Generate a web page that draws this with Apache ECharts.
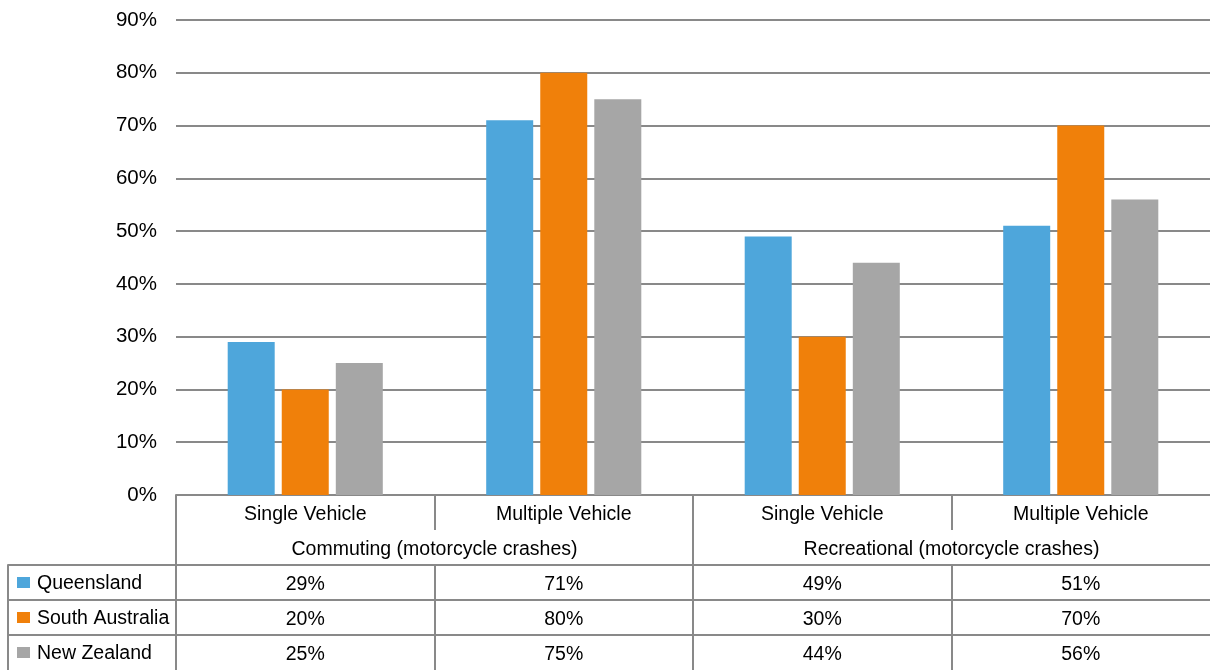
<!DOCTYPE html>
<html>
<head>
<meta charset="utf-8">
<script src="https://cdn.jsdelivr.net/npm/echarts@6/dist/echarts.min.js"></script>
<style>
  html, body { margin: 0; padding: 0; background: #fff; }
  #chart { width: 1210px; height: 670px; }
</style>
</head>
<body>
<div id="chart"></div>
<script>
// ---- data ----
const subCategories = ['Single Vehicle', 'Multiple Vehicle', 'Single Vehicle', 'Multiple Vehicle'];
const groupCategories = ['Commuting (motorcycle crashes)', 'Recreational (motorcycle crashes)'];
const seriesNames = ['Queensland', 'South Australia', 'New Zealand'];
const queensland = [29, 71, 49, 51];
const southAustralia = [20, 80, 30, 70];
const newZealand = [25, 75, 44, 56];
const seriesValues = [queensland, southAustralia, newZealand];
const colors = ['#4EA6DB', '#F0800A', '#A6A6A6'];
const yMin = 0, yMax = 90, yStep = 10;

// ---- layout / style ----
const FONT = "'Liberation Sans', Arial, sans-serif";
const FS = 19.5;
const LINE = '#898989';
const LW = 2;
const plotLeft = 176, plotTop = 20, plotBottomY = 495, rowH = 35;

const grids = [];
const xAxes = [];
const yAxes = [];

// main plot grid
grids.push({ left: plotLeft, right: 0, top: plotTop, height: plotBottomY - plotTop, outerBoundsMode: 'none' });
xAxes.push({
  type: 'category', gridIndex: 0,
  data: subCategories.map((_, i) => 'c' + i),
  axisLine: { show: true, lineStyle: { color: LINE, width: LW } },
  axisTick: { show: false }, axisLabel: { show: false }, splitLine: { show: false }
});
yAxes.push({
  type: 'value', gridIndex: 0, min: yMin, max: yMax, interval: yStep,
  axisLine: { show: false }, axisTick: { show: false },
  axisLabel: { formatter: '{value}%', color: '#000', fontFamily: FONT, fontSize: 20.5, margin: 19, padding: [4, 0, 0, 0] },
  splitLine: { show: true, lineStyle: { color: LINE, width: LW } }
});

// table rows
const rows = [
  { labels: subCategories, topLine: false },
  { labels: groupCategories, topLine: false },
  { labels: queensland.map(v => v + '%'), topLine: true },
  { labels: southAustralia.map(v => v + '%'), topLine: true },
  { labels: newZealand.map(v => v + '%'), topLine: true }
];
rows.forEach((r, k) => {
  const gi = grids.length;
  grids.push({ left: plotLeft, right: 0, top: plotBottomY + k * rowH, height: rowH, outerBoundsMode: 'none' });
  const labels = r.labels;
  xAxes.push({
    type: 'category', gridIndex: gi, position: 'top',
    data: labels.map((_, i) => 'r' + k + '_' + i),
    axisLine: { show: r.topLine, onZero: false, lineStyle: { color: LINE, width: LW } },
    axisTick: { show: false, interval: 0 },
    axisLabel: {
      show: true, inside: true, interval: 0, margin: 10,
      color: '#000', fontFamily: FONT, fontSize: FS,
      formatter: (v, i) => labels[i]
    },
    splitLine: { show: true, interval: 0, showMinLine: true, showMaxLine: false, lineStyle: { color: LINE, width: LW } }
  });
  yAxes.push({ type: 'value', gridIndex: gi, show: false, min: 0, max: 1 });
});

// legend column of the table
const legGi = grids.length;
grids.push({ left: 8, width: plotLeft - 8, top: plotBottomY + 2 * rowH, height: 3 * rowH, outerBoundsMode: 'none' });
xAxes.push({ type: 'value', gridIndex: legGi, show: false, min: 0, max: 1 });
const rich = { t: { color: '#000', fontFamily: FONT, fontSize: FS, padding: [3, 0, 0, 7] } };
colors.forEach((c, i) => { rich['s' + i] = { width: 13, height: 11, backgroundColor: c }; });
yAxes.push({
  type: 'category', gridIndex: legGi, inverse: true,
  data: seriesNames,
  axisLine: { show: true, onZero: false, lineStyle: { color: LINE, width: LW } },
  axisTick: { show: false, interval: 0 },
  axisLabel: {
    inside: true, interval: 0, margin: 9, align: 'left',
    formatter: (v, i) => '{s' + i + '|}{t|' + v + '}',
    rich: rich
  },
  splitLine: { show: true, interval: 0, showMinLine: true, showMaxLine: false, lineStyle: { color: LINE, width: LW } }
});

const series = seriesNames.map((name, i) => ({
  name: name, type: 'bar', xAxisIndex: 0, yAxisIndex: 0,
  data: seriesValues[i], barWidth: 47, barGap: '15%',
  itemStyle: { color: colors[i] }
}));

const chart = echarts.init(document.getElementById('chart'), null, { renderer: 'canvas' });
chart.setOption({
  animation: false,
  backgroundColor: '#fff',
  textStyle: { fontFamily: FONT },
  grid: grids,
  xAxis: xAxes,
  yAxis: yAxes,
  series: series
});
</script>
</body>
</html>
